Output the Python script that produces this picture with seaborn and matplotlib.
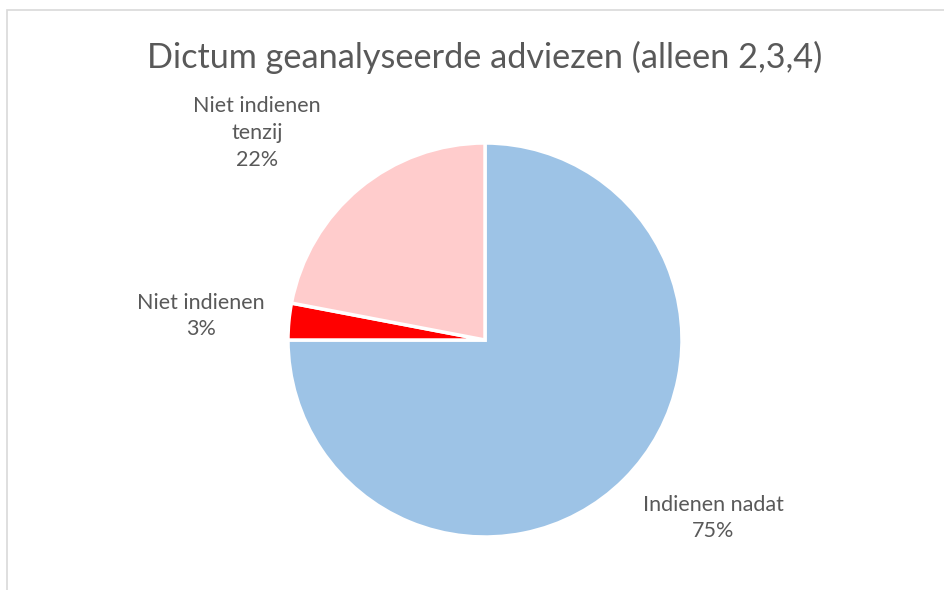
import matplotlib
matplotlib.use("Agg")
import matplotlib.pyplot as plt
import seaborn as sns
from matplotlib.patches import Rectangle

# Gegevens uit de grafiek
categories = ["Indienen nadat", "Niet indienen", "Niet indienen\ntenzij"]
shares = [75, 3, 22]
colors = ["#9DC3E6", "#FF0000", "#FFCCCC"]
title = "Dictum geanalyseerde adviezen (alleen 2,3,4)"

sns.set_theme(style="white")
plt.rcParams["font.family"] = ["Lato", "DejaVu Sans"]
text_color = "#595959"

W, H = 944, 590
fig = plt.figure(figsize=(W / 100, H / 100), dpi=100)
ax = fig.add_axes([0, 0, 1, 1])

# kader van het diagram (loopt buiten beeld rechts/onder)
fig.patches.append(Rectangle((7 / W, -0.1), 1.2, (H - 10) / H + 0.1,
                             transform=fig.transFigure, fill=False,
                             edgecolor="#D9D9D9", linewidth=1.2))

cx, cy, r = 485, H - 340, 197
wedges, _ = ax.pie(shares, colors=colors, startangle=90, counterclock=False,
                   center=(cx, cy), radius=r, frame=True,
                   wedgeprops=dict(edgecolor="white", linewidth=2.5))
ax.set_xlim(0, W)
ax.set_ylim(0, H)
ax.set_aspect("equal")
ax.axis("off")

# labelposities (pixels, y vanaf boven)
label_pos = [(713, 518), (201, 316), (257, 133)]
for cat, val, (x, y) in zip(categories, shares, label_pos):
    ax.text(x, H - y, f"{cat}\n{val}%", ha="center", va="center",
            fontsize=15.5, color=text_color, linespacing=1.42)

ax.text(485, H - 57, title, ha="center", va="center",
        fontsize=24.7, color=text_color)

fig.savefig("out.png", dpi=100)
